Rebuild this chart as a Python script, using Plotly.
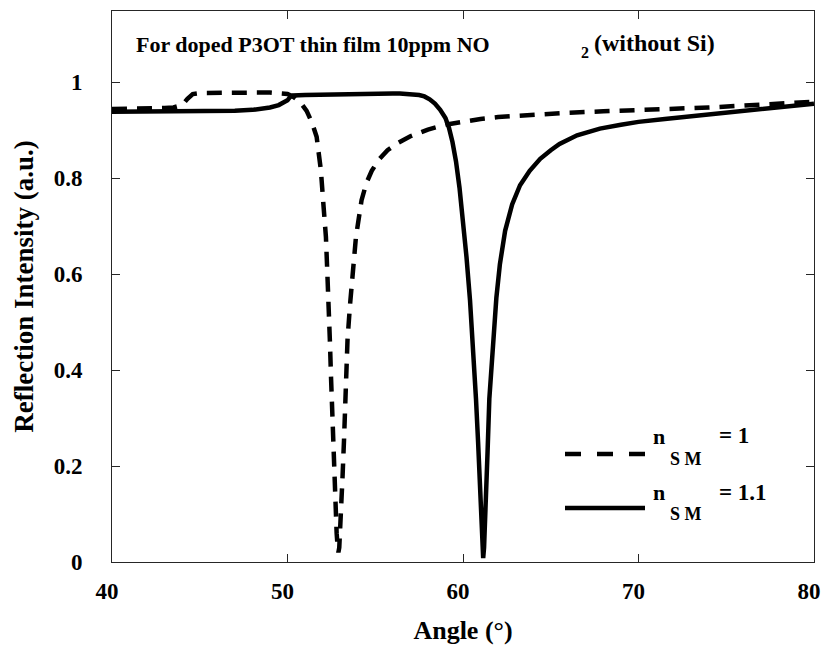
import plotly.graph_objects as go

# ---- data ----
angle_n1 = [40, 41, 42, 43, 43.5, 44.0, 44.3, 44.6, 45, 46, 47, 48, 49, 49.5, 50.0, 50.3, 50.7,
            51.09, 51.4, 51.66, 51.9, 52.04, 52.19, 52.27, 52.36, 52.42, 52.48, 52.54, 52.61,
            52.69, 52.74, 52.8, 52.86, 52.9, 52.95, 53.0, 53.05, 53.14, 53.22, 53.28, 53.33,
            53.42, 53.56, 53.71, 53.9, 54.22, 54.5, 54.8, 55.2, 55.7, 56.3, 57, 58, 59, 60, 61,
            62, 64, 66, 68, 70, 72, 74, 76, 78, 80]
refl_n1 = [0.944, 0.944, 0.945, 0.946, 0.947, 0.952, 0.965, 0.975, 0.977, 0.978, 0.978, 0.978,
           0.978, 0.977, 0.975, 0.970, 0.959,
           0.940, 0.915, 0.886, 0.817, 0.748, 0.677, 0.602, 0.531, 0.456, 0.385, 0.317, 0.248,
           0.177, 0.108, 0.06, 0.03, 0.02, 0.03, 0.06, 0.108, 0.181, 0.254, 0.323, 0.394,
           0.463, 0.535, 0.604, 0.677, 0.754, 0.790, 0.815, 0.838, 0.858, 0.873, 0.887, 0.901,
           0.911, 0.918, 0.923, 0.927, 0.932, 0.936, 0.939, 0.941, 0.944, 0.947, 0.951, 0.955,
           0.959]

angle_n11 = [40, 42, 44, 46, 47, 48, 49, 49.5, 49.8, 50.0, 50.15, 50.3, 51, 52, 53, 54, 55, 56,
             56.4, 57, 57.5, 57.8, 58.1, 58.4, 58.7, 59.0, 59.2, 59.4, 59.6, 59.8, 60.0, 60.2,
             60.4, 60.6, 60.74, 60.86, 60.97, 61.05, 61.1, 61.15, 61.2, 61.25, 61.3, 61.4,
             61.5, 61.7, 61.9, 62.1, 62.4, 62.8, 63.25, 63.8, 64.4, 65, 65.5, 66.5, 67.8, 69,
             70, 71.5, 73.5, 75, 76.9, 78.5, 80]
refl_n11 = [0.938, 0.938, 0.938, 0.939, 0.940, 0.942, 0.947, 0.952, 0.957, 0.962, 0.969, 0.972,
            0.973, 0.974, 0.975, 0.975, 0.976, 0.976,
            0.976, 0.975, 0.973, 0.970, 0.964, 0.955, 0.942, 0.925, 0.905, 0.875, 0.835, 0.78,
            0.71, 0.635, 0.545, 0.44, 0.34, 0.25, 0.15, 0.08, 0.035, 0.008, 0.03, 0.07, 0.13,
            0.23, 0.34, 0.45, 0.55, 0.62, 0.69, 0.745, 0.785, 0.815, 0.84, 0.858, 0.871, 0.889,
            0.903, 0.911, 0.917, 0.923, 0.930, 0.936, 0.944, 0.949, 0.955]

x_ticks = [40, 50, 60, 70, 80]
x_tick_labels = ["40", "50", "60", "70", "80"]
y_ticks = [0, 0.2, 0.4, 0.6, 0.8, 1.0]
y_tick_labels = ["0", "0.2", "0.4", "0.6", "0.8", "1"]

FONT = "Times New Roman, Liberation Serif, DejaVu Serif, serif"
INK = "#000000"
AX = "#262626"

fig = go.Figure()
fig.add_trace(go.Scatter(x=angle_n1, y=refl_n1, mode="lines",
                         line=dict(color=INK, width=4.5, dash="15px,10px"),
                         showlegend=False, hoverinfo="skip"))
fig.add_trace(go.Scatter(x=angle_n11, y=refl_n11, mode="lines",
                         line=dict(color=INK, width=4.5),
                         showlegend=False, hoverinfo="skip"))

axis_common = dict(showline=True, linecolor=AX, linewidth=1, mirror="ticks",
                   ticks="inside", ticklen=8, tickcolor=AX, tickwidth=1,
                   showgrid=False, zeroline=False, ticklabeloverflow="allow",
                   automargin=False,
                   tickfont=dict(family=FONT, size=23, color=INK))

fig.update_xaxes(range=[40, 80], tickvals=x_ticks,
                 ticktext=["<b>%s</b>" % t for t in x_tick_labels],
                 title=dict(text="<b>Angle (°)</b>", font=dict(family=FONT, size=26, color=INK),
                            standoff=18),
                 ticklabelstandoff=8, ticklabelshift=-5, **axis_common)
fig.update_yaxes(range=[0, 1.148], tickvals=y_ticks,
                 ticktext=["<b>%s</b>" % t for t in y_tick_labels],
                 title=dict(text="<b>Reflection Intensity (a.u.)</b>",
                            font=dict(family=FONT, size=27, color=INK), standoff=12),
                 ticklabelstandoff=24, **axis_common)


def paper_x(px):
    return (px - 112) / (814 - 112)


def paper_y(py):
    return (562 - py) / (562 - 11)


annos = [
    ("<b>For doped P3OT thin film 10ppm NO</b>", 134, 45, 22, "left"),
    ("<b>2</b>", 579, 53, 16, "left"),
    ("<b>(without Si)</b>", 592, 43, 24, "left"),
    ("<b>n</b>", 651, 436, 22, "left"),
    ("<b>S M</b>", 668, 459, 18, "left"),
    ("<b>= 1</b>", 717, 435, 23, "left"),
    ("<b>n</b>", 651, 492, 22, "left"),
    ("<b>S M</b>", 668, 514, 18, "left"),
    ("<b>= 1.1</b>", 717, 492, 23, "left"),
]
for text, px, py, size, anchor in annos:
    fig.add_annotation(x=paper_x(px), y=paper_y(py), xref="paper", yref="paper",
                       text=text, showarrow=False, xanchor=anchor, yanchor="middle",
                       font=dict(family=FONT, size=size, color=INK))

# legend sample lines
fig.add_shape(type="line", xref="paper", yref="paper",
              x0=paper_x(565), x1=paper_x(645), y0=paper_y(454), y1=paper_y(454),
              line=dict(color=INK, width=4.5, dash="16px,16px"))
fig.add_shape(type="line", xref="paper", yref="paper",
              x0=paper_x(565), x1=paper_x(645), y0=paper_y(508), y1=paper_y(508),
              line=dict(color=INK, width=4.5))

fig.update_layout(width=822, height=651, margin=dict(l=112, r=8, t=11, b=89),
                  paper_bgcolor="white", plot_bgcolor="white",
                  font=dict(family=FONT, color=INK))

fig.write_html("out.html")
